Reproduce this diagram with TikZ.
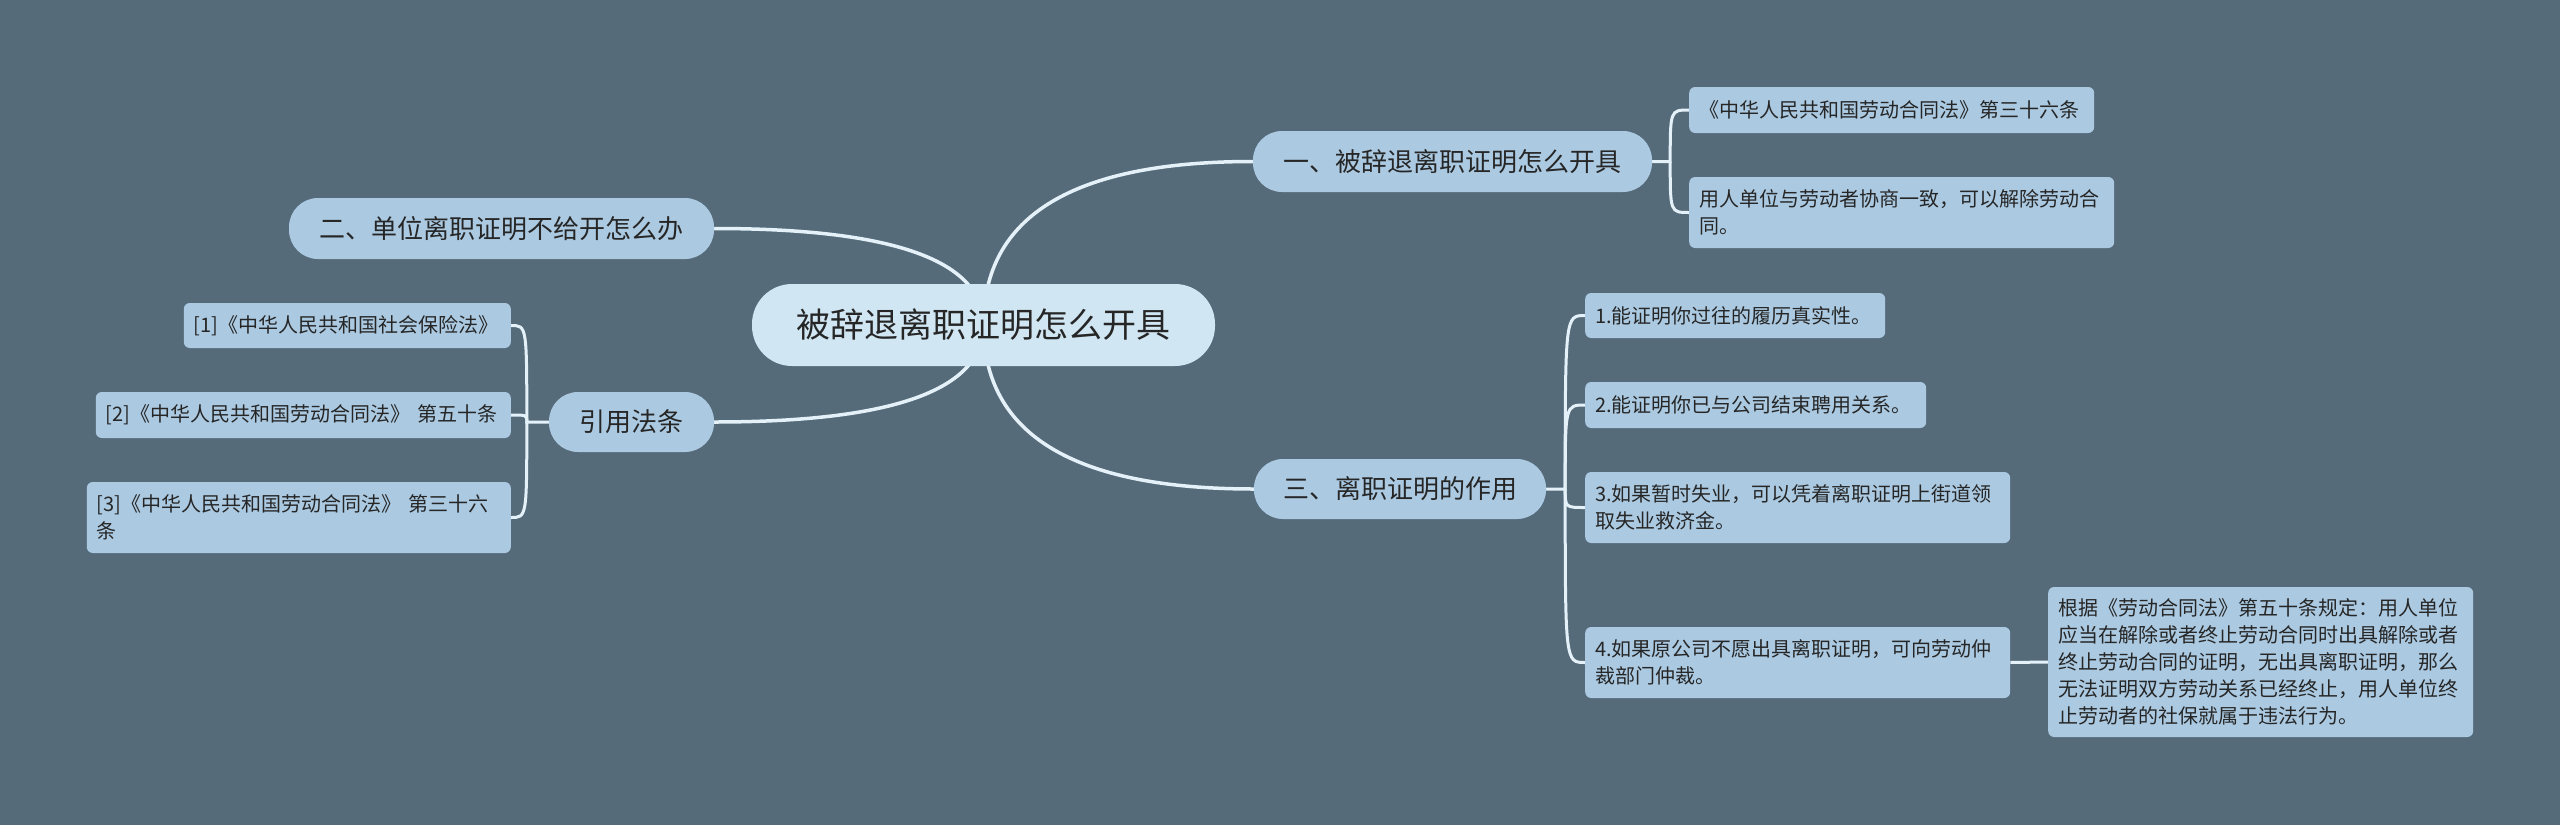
\documentclass[tikz,border=0pt]{standalone}
\usepackage{fontspec}
\newfontfamily\cjk{Noto Sans CJK SC}
\usetikzlibrary{calc,backgrounds}
\definecolor{bgc}{HTML}{566B7A}
\definecolor{rootfill}{HTML}{D0E6F3}
\definecolor{nodefill}{HTML}{ABCAE2}
\definecolor{linec}{HTML}{E4F1F8}
\definecolor{txt}{HTML}{262626}
\begin{document}
\begin{tikzpicture}[x=1pt,y=-1pt,
  root/.style={fill=rootfill, rounded corners=40pt, minimum height=82pt, minimum width=463pt, inner sep=0pt, font=\cjk\fontsize{34}{40}\selectfont, text=txt},
  topic/.style={fill=nodefill, rounded corners=29pt, minimum height=61pt, inner sep=0pt, font=\cjk\fontsize{26}{32}\selectfont, text=txt},
  leaf/.style={fill=nodefill, rounded corners=6pt, inner xsep=10pt, inner ysep=0pt, align=left, font=\cjk\fontsize{20}{27}\selectfont, text=txt},
  trunk/.style={draw=linec, line width=3.5pt},
  twig/.style={draw=linec, line width=3pt},
]
\useasboundingbox (0,0) rectangle (2560,825);

\node[root] (c) at (983.5,325) {被辞退离职证明怎么开具};
\node[topic, minimum width=399pt] (n1) at (1452.5,161.5) {一、被辞退离职证明怎么开具};
\node[topic, minimum width=425pt] (n2) at (501.5,228.5) {二、单位离职证明不给开怎么办};
\node[topic, minimum width=292pt, minimum height=60pt] (n3) at (1400,489) {三、离职证明的作用};
\node[topic, minimum width=165pt, minimum height=60pt] (n4) at (631.5,422) {引用法条};

\node[leaf, anchor=west, text width=385pt, minimum height=46pt] (a1) at (1689,110) {《中华人民共和国劳动合同法》第三十六条};
\node[leaf, anchor=west, text width=405pt, minimum height=71pt] (a2) at (1689,212.5) {用人单位与劳动者协商一致，可以解除劳动合\\同。};

\node[leaf, anchor=west, text width=280pt, minimum height=45pt] (b1) at (1585,315.5) {1.能证明你过往的履历真实性。};
\node[leaf, anchor=west, text width=321pt, minimum height=46pt] (b2) at (1585,405) {2.能证明你已与公司结束聘用关系。};
\node[leaf, anchor=west, text width=405pt, minimum height=71pt] (b3) at (1585,507.5) {3.如果暂时失业，可以凭着离职证明上街道领\\取失业救济金。};
\node[leaf, anchor=west, text width=405pt, minimum height=71pt] (b4) at (1585,662.5) {4.如果原公司不愿出具离职证明，可向劳动仲\\裁部门仲裁。};
\node[leaf, anchor=west, text width=405pt, minimum height=150pt] (d) at (2048,662) {根据《劳动合同法》第五十条规定：用人单位\\应当在解除或者终止劳动合同时出具解除或者\\终止劳动合同的证明，无出具离职证明，那么\\无法证明双方劳动关系已经终止，用人单位终\\止劳动者的社保就属于违法行为。};

\node[leaf, anchor=east, text width=307pt, minimum height=45pt] (l1) at (511,325.5) {[1]《中华人民共和国社会保险法》};
\node[leaf, anchor=east, text width=395pt, minimum height=46pt] (l2) at (511,415) {[2]《中华人民共和国劳动合同法》 第五十条};
\node[leaf, anchor=east, text width=404pt, minimum height=71pt] (l3) at (511,517.5) {[3]《中华人民共和国劳动合同法》 第三十六\\条};

\coordinate (j1) at ($(n1.east)+(18,0)$);
\coordinate (j3) at ($(n3.east)+(19,0)$);
\coordinate (j4) at ($(n4.west)+(-22,0)$);

\begin{scope}[on background layer]
\fill[bgc] (0,0) rectangle (2560,825);
\draw[trunk] (c.center) .. controls ($(c.center)!0.667!(c.center |- n1.west)$) and ($(n1.west)!0.667!(c.center |- n1.west)$) .. (n1.west);
\draw[trunk] (c.center) .. controls ($(c.center)!0.667!(c.center |- n3.west)$) and ($(n3.west)!0.667!(c.center |- n3.west)$) .. (n3.west);
\draw[trunk] (c.center) .. controls ($(c.center)!0.667!(c.center |- n2.east)$) and ($(n2.east)!0.667!(c.center |- n2.east)$) .. (n2.east);
\draw[trunk] (c.center) .. controls ($(c.center)!0.667!(c.center |- n4.east)$) and ($(n4.east)!0.667!(c.center |- n4.east)$) .. (n4.east);

\draw[twig] (n1.east) -- (j1) .. controls (j1 |- a1.west) .. (a1.west);
\draw[twig] (j1) .. controls (j1 |- a2.west) .. (a2.west);

\draw[twig] (n3.east) -- (j3) .. controls (j3 |- b1.west) .. (b1.west);
\draw[twig] (j3) .. controls (j3 |- b2.west) .. (b2.west);
\draw[twig] (j3) .. controls (j3 |- b3.west) .. (b3.west);
\draw[twig] (j3) .. controls (j3 |- b4.west) .. (b4.west);
\draw[twig] (b4.east) -- (d.west);

\draw[twig] (n4.west) -- (j4) .. controls (j4 |- l1.east) .. (l1.east);
\draw[twig] (j4) .. controls (j4 |- l2.east) .. (l2.east);
\draw[twig] (j4) .. controls (j4 |- l3.east) .. (l3.east);
\end{scope}
\end{tikzpicture}
\end{document}
